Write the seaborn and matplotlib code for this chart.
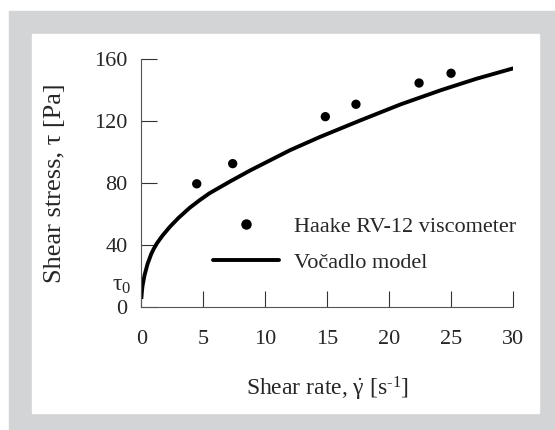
import matplotlib
matplotlib.use("Agg")
import matplotlib.pyplot as plt
import seaborn as sns
import pandas as pd
from matplotlib.patches import Rectangle
from matplotlib.lines import Line2D

# measured points (Haake RV-12 viscometer)
rate_meas = [4.47, 7.37, 14.84, 17.31, 22.4, 24.98]
stress_meas = [79.3, 92.3, 122.6, 130.6, 144.3, 150.6]

# Vocadlo model curve
rate_model = [0, 0.05, 0.1, 0.25, 0.5, 0.8, 1.0, 1.25, 1.7, 2.3, 3.0, 3.9,
              4.7, 5.5, 7.2, 8.8, 10.4, 12.0, 14.4, 17.6, 20.9, 24.2, 27.0, 30.0]
stress_model = [5, 10, 13.5, 20, 27.5, 34, 37.3, 40.8, 45.8, 51.5, 57.3, 63.8,
                68.7, 73.2, 81, 88, 94.5, 101, 109.5, 120, 130.5, 139.8, 147, 153.8]

xticks = [0, 5, 10, 15, 20, 25, 30]
yticks = [0, 40, 80, 120, 160]

sns.set_theme(style="ticks")
plt.rcParams["font.family"] = ["Liberation Serif", "DejaVu Serif"]
plt.rcParams["mathtext.fontset"] = "custom"
plt.rcParams["mathtext.rm"] = "Liberation Serif"
plt.rcParams["mathtext.it"] = "Liberation Serif"
plt.rcParams["mathtext.bf"] = "Liberation Serif"

fs_tick = 16
fs_lab = 17
fs_leg = 16

fig = plt.figure(figsize=(5.55, 4.3), dpi=100, facecolor="white")
# grey frame with white panel
fig.patches.append(Rectangle((9 / 555, 0), 1 - 9 / 555, 1 - 11 / 430,
                             transform=fig.transFigure, color="#d3d4d6", zorder=-2))
fig.patches.append(Rectangle((32 / 555, 17 / 430), 507 / 555, 379 / 430,
                             transform=fig.transFigure, color="white", zorder=-1))

ax = fig.add_axes([0.2546, 0.2867, 0.6703, 0.5768])
ax.set_facecolor("none")
ax.set_zorder(2)

model = pd.DataFrame({"rate": rate_model, "stress": stress_model})
meas = pd.DataFrame({"rate": rate_meas, "stress": stress_meas})

sns.lineplot(data=model, x="rate", y="stress", ax=ax, color="black",
             linewidth=2.8, sort=False, solid_capstyle="butt")
sns.scatterplot(data=meas, x="rate", y="stress", ax=ax, color="black",
                s=45, edgecolor="none", zorder=3)

ax.set_xlim(0, 30)
ax.set_ylim(0, 160)
ax.set_xticks(xticks)
ax.set_yticks(yticks)
ax.tick_params(direction="in", length=11.5, width=0.8, color="#333333",
               labelsize=fs_tick)
ax.tick_params(axis="x", pad=17)
ax.tick_params(axis="y", pad=10)
for s in ["top", "right"]:
    ax.spines[s].set_visible(False)
for s in ["left", "bottom"]:
    ax.spines[s].set_color("#555555")
    ax.spines[s].set_linewidth(0.8)

ax.set_xlabel(r"Shear rate, $\dot{\gamma}$ [s$^{\text{-1}}$]", fontsize=fs_lab, labelpad=18)
ax.set_ylabel("Shear stress, τ [Pa]", fontsize=19, labelpad=20)

# tau_0 marker near the y axis
ax.text(-0.027, 14, r"$\tau_0$", transform=ax.get_yaxis_transform(),
        ha="right", va="center", fontsize=fs_lab)

handles = [
    Line2D([], [], marker="o", color="black", linestyle="none", markersize=6.5),
    Line2D([], [], color="black", linewidth=2.8),
]
ax.legend(handles, ["Haake RV-12 viscometer", "Vočadlo model"],
          loc="center left", bbox_to_anchor=(5.78, 40), bbox_transform=ax.transData,
          frameon=False, fontsize=fs_leg, handlelength=2.95, handletextpad=0.68,
          labelspacing=0.68, borderpad=0, borderaxespad=0)

fig.savefig("out.png", dpi=100)
